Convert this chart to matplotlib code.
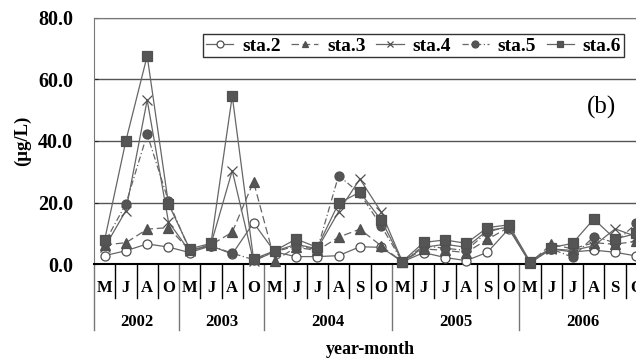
import matplotlib.pyplot as plt
from matplotlib.lines import Line2D

plt.rcParams['font.family'] = ['Liberation Serif', 'DejaVu Serif']

years = ['2002', '2003', '2004', '2005', '2006']
months = [['M', 'J', 'A', 'O'],
          ['M', 'J', 'A', 'O'],
          ['M', 'J', 'J', 'A', 'S', 'O'],
          ['M', 'J', 'J', 'A', 'S', 'O'],
          ['M', 'J', 'J', 'A', 'S', 'O']]

sta2 = [2.8, 4.4, 6.6, 5.6, 3.8, 6.0, 3.3, 13.5,
        4.0, 2.5, 2.5, 2.8, 5.7, 5.5,
        0.8, 3.8, 2.2, 1.2, 3.9, 11.5,
        0.5, 5.0, 4.0, 4.6, 3.9, 2.7]
sta3 = [6.3, 7.0, 11.4, 11.9, 4.5, 6.3, 10.4, 26.8,
        1.2, 5.5, 4.5, 8.8, 11.4, 6.0,
        0.8, 5.0, 4.5, 3.8, 8.1, 12.0,
        0.5, 6.5, 5.0, 7.0, 6.5, 7.5]
sta4 = [5.5, 17.4, 53.3, 13.8, 4.2, 6.5, 30.4, 1.0,
        4.2, 6.5, 5.0, 17.1, 27.7, 17.0,
        0.8, 5.5, 6.5, 5.5, 11.0, 12.0,
        0.5, 5.0, 4.5, 6.0, 11.5, 9.0]
sta5 = [7.0, 19.6, 42.2, 20.5, 4.5, 6.0, 3.6, 1.5,
        4.0, 6.0, 4.8, 28.8, 23.0, 12.5,
        0.8, 6.0, 5.2, 4.5, 10.5, 12.3,
        0.5, 5.0, 2.3, 9.0, 7.0, 13.3]
sta6 = [7.9, 40.1, 67.6, 19.6, 5.0, 6.8, 54.6, 1.7,
        4.4, 8.2, 5.5, 19.8, 23.4, 14.4,
        0.9, 7.1, 7.9, 6.8, 11.9, 12.8,
        0.9, 5.4, 6.8, 14.7, 8.2, 10.0]

series = [
    ('sta.2', sta2, '-', 'o', 'white'),
    ('sta.3', sta3, (0, (6, 3)), '^', '#555555'),
    ('sta.4', sta4, '-', 'x', '#555555'),
    ('sta.5', sta5, (0, (5, 2, 1, 2)), 'o', '#555555'),
    ('sta.6', sta6, '-', 's', '#555555'),
]

fig = plt.figure(figsize=(6.36, 3.58), dpi=100)
ax = fig.add_axes([94 / 636, 1 - 264.3 / 358, 553 / 636, 246.6 / 358])

x = list(range(len(sta2)))
handles = []
for name, vals, ls, mk, fc in series:
    ms = 7 if mk in ('s', 'x') else 6.5
    ax.plot(x, vals, linestyle=ls, color='#666666', lw=0.9, marker=mk,
            markersize=ms, markerfacecolor=fc, markeredgecolor='#505050',
            markeredgewidth=0.9, clip_on=False, zorder=3)
    handles.append(Line2D([], [], linestyle=ls, color='#666666', lw=0.9,
                          marker=mk, markersize=5, markerfacecolor=fc,
                          markeredgecolor='#505050', markeredgewidth=0.9,
                          label=name))

ax.set_xlim(-0.5, len(x) - 0.5)
ax.set_ylim(0, 80)
ax.set_yticks([0, 20, 40, 60, 80])
ax.set_yticklabels(['%.1f' % v for v in [0, 20, 40, 60, 80]],
                   fontsize=14.5, fontweight='bold')
ax.tick_params(axis='y', length=3, direction='in', pad=15, color='#222222')
ax.set_xticks([])
ax.grid(axis='y', color='#555555', lw=1.0)
ax.set_axisbelow(True)
for s in ['top', 'left', 'right']:
    ax.spines[s].set_color('#777777')
ax.spines['bottom'].set_color('black')
ax.spines['bottom'].set_linewidth(1.5)

fig.text(22 / 636, 1 - 141 / 358, '(μg/L)', rotation=90, ha='center',
         va='center', fontsize=13.5, fontweight='bold')
fig.text(370 / 636, 1 - 349 / 358, 'year-month', ha='center', va='center',
         fontsize=13, fontweight='bold')

# category axis with month / year rows
tr = ax.get_xaxis_transform()
pos = 0
ax.plot([-0.5, -0.5], [0, -0.268], transform=tr, color='#777777', lw=1,
        clip_on=False)
for yr, ms_ in zip(years, months):
    for i, m in enumerate(ms_):
        ax.text(pos + i, -0.096, m, transform=tr, ha='center', va='center',
                fontsize=12, fontweight='bold')
        if i > 0:
            ax.plot([pos + i - 0.5] * 2, [0, -0.138], transform=tr,
                    color='black', lw=1, clip_on=False)
    end = pos + len(ms_) - 0.5
    ax.text(pos + (len(ms_) - 1) / 2, -0.234, yr, transform=tr, ha='center',
            va='center', fontsize=12, fontweight='bold')
    ax.plot([end, end], [0, -0.268], transform=tr, color='#777777', lw=1,
            clip_on=False)
    pos += len(ms_)

leg = ax.legend(handles=handles, ncol=5, loc='upper left',
                bbox_to_anchor=(203 / 636, 1 - 34 / 358), bbox_transform=fig.transFigure,
                prop={'weight': 'bold', 'size': 14}, frameon=True, fancybox=False,
                edgecolor='black', handlelength=1.4, handletextpad=0.45,
                columnspacing=0.55, borderpad=0.15, borderaxespad=0)
leg.get_frame().set_linewidth(1.0)

ax.text(602, 358 - 107, '(b)', transform=None, fontsize=18, ha='center',
        va='center')

fig.savefig('out.png', dpi=100)
